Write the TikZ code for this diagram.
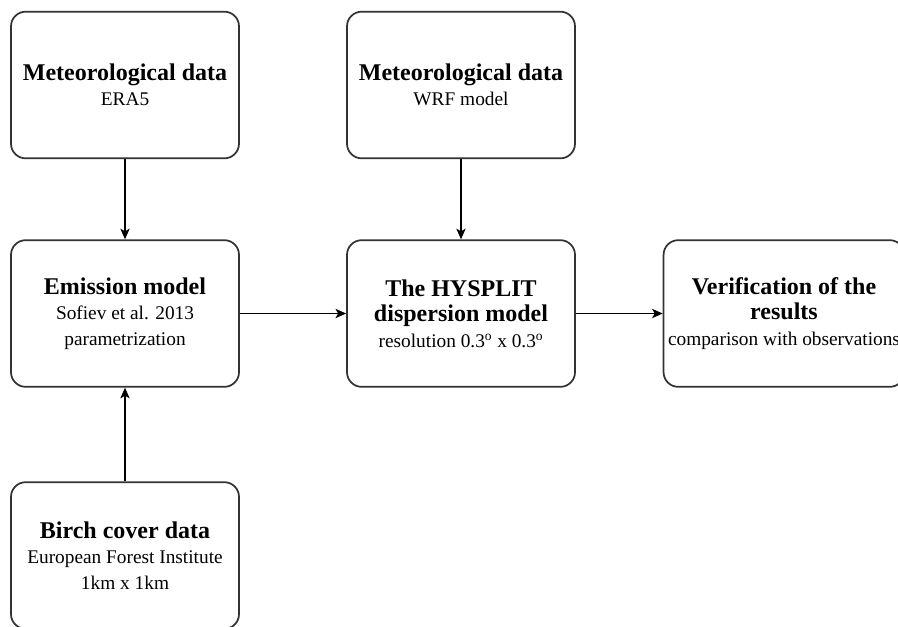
\documentclass[tikz,border=0pt]{standalone}
\usepackage{fontspec}
\setmainfont{Liberation Serif}
\usetikzlibrary{arrows.meta}
\definecolor{BoxLine}{HTML}{333333}
\newcommand{\headline}[1]{{\fontsize{18}{21}\selectfont\bfseries #1}}

\begin{document}
\begin{tikzpicture}[x=0.75pt, y=-0.75pt,
    stage/.style={draw=BoxLine, line width=1.3pt, rounded corners=11pt, fill=white,
        minimum width=171pt, minimum height=110pt, align=center,
        font=\fontsize{14.5}{19}\selectfont},
    flow/.style={-{Stealth[length=8pt, width=7pt, inset=2pt]}, line width=0.9pt, black}]
    \clip (0,0) rectangle (898,626);
    \useasboundingbox (0,0) rectangle (898,626);

    % Meteorological data (top row)
    \node[stage] (era) at (125,85) {\headline{Meteorological data}\\ERA5};
    \node[stage] (wrf) at (461,85) {\headline{Meteorological data}\\WRF model};

    % Emission model
    \node[stage] (emission) at (125,313.5) {\headline{Emission model}\\Sofiev et al. 2013\\parametrization};

    % HYSPLIT
    \node[stage] (hysplit) at (461,313.5) {\headline{The HYSPLIT}\\\headline{dispersion model}\\resolution 0.3\textsuperscript{o} x 0.3\textsuperscript{o}};

    % Verification
    \node[stage] (verif) at (784,313.5) {\headline{Verification of the}\\\headline{results}\\comparison with observations};

    % Birch cover data
    \node[stage] (birch) at (125,555.5) {\headline{Birch cover data}\\European Forest Institute\\1km x 1km};

    % Arrows
    \draw[flow] (era) -- (emission);
    \draw[flow] (birch) -- (emission);
    \draw[flow] (wrf) -- (hysplit);
    \draw[flow] (emission) -- (hysplit);
    \draw[flow] (hysplit) -- (verif);
\end{tikzpicture}
\end{document}
